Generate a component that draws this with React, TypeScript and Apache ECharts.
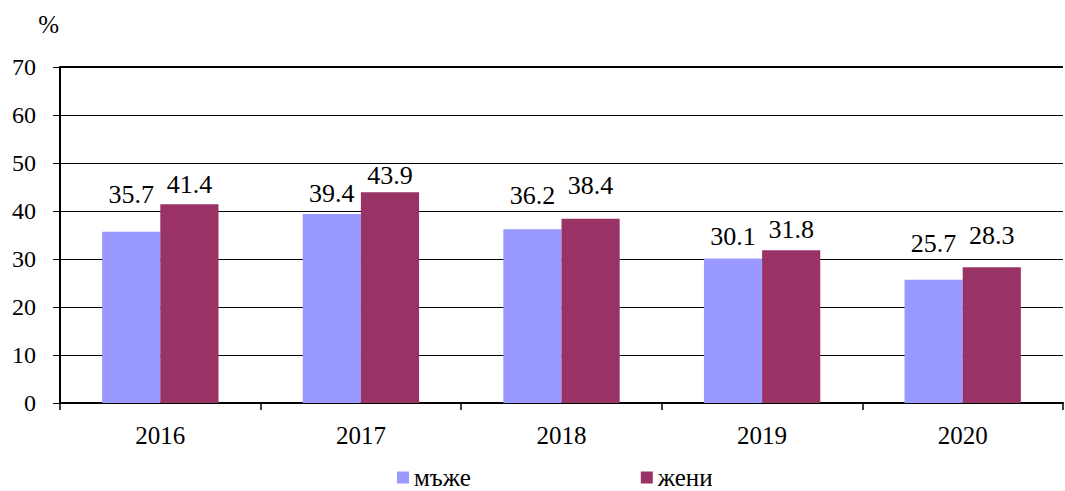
import React, { useEffect, useRef } from "react";
import * as echarts from "echarts";

const years = ["2016", "2017", "2018", "2019", "2020"];
const men = [35.7, 39.4, 36.2, 30.1, 25.7];
const women = [41.4, 43.9, 38.4, 31.8, 28.3];
const seriesNames = ["мъже", "жени"];
// extra label lift (px) per point, mimicking the manually placed labels
const menLabelLift = [17, 0, 14, 2, 16];
const womenLabelLift = [0, -3, 13, 1, 12];

const FONT = "Times New Roman";

export default function App() {
  const ref = useRef<HTMLDivElement>(null);
  useEffect(() => {
    if (!ref.current) return;
    const chart = echarts.init(ref.current, null, { renderer: "svg" });
    const baseLabel = { show: true, position: "top", fontFamily: FONT, fontSize: 26, color: "#000" };
    chart.setOption({
      animation: false,
      textStyle: { fontFamily: FONT, color: "#000" },
      grid: { left: 60, right: 2, top: 67, bottom: 88, containLabel: false },
      legend: {
        top: 465,
        left: 397,
        padding: 0,
        itemWidth: 12,
        itemHeight: 12,
        itemGap: 170,
        icon: "rect",
        textStyle: { fontFamily: FONT, fontSize: 25, lineHeight: 24, color: "#000" },
        data: seriesNames,
      },
      xAxis: {
        type: "category",
        data: years,
        axisLine: { lineStyle: { color: "#000", width: 2 } },
        axisTick: { show: true, inside: false, length: 7, alignWithLabel: false, lineStyle: { color: "#000", width: 1.5 } },
        axisLabel: { fontFamily: FONT, fontSize: 25, color: "#000", margin: 20 },
      },
      yAxis: {
        type: "value",
        min: 0,
        max: 70,
        interval: 10,
        name: "%",
        nameLocation: "end",
        nameGap: 30,
        nameTextStyle: { fontFamily: FONT, fontSize: 25, color: "#000", align: "right", padding: [0, 1, 0, 0] },
        axisLine: { show: true, lineStyle: { color: "#000", width: 2 } },
        axisTick: { show: true, length: 7, lineStyle: { color: "#000", width: 1 } },
        axisLabel: { fontFamily: FONT, fontSize: 24, color: "#000", margin: 24 },
        splitLine: { show: true, lineStyle: { color: "#000", width: 1 } },
      },
      series: [
        {
          name: seriesNames[0],
          type: "bar",
          data: men.map((v, i) => ({ value: v, label: { ...baseLabel, distance: 7 + menLabelLift[i] } })),
          barGap: "0%",
          barCategoryGap: "42%",
          itemStyle: { color: "#9999FF" },
          label: { ...baseLabel, distance: 7 },
          markLine: {
            silent: true,
            symbol: "none",
            label: { show: false },
            lineStyle: { color: "#000", width: 2, type: "solid" },
            data: [{ yAxis: 70 }],
          },
        },
        {
          name: seriesNames[1],
          type: "bar",
          data: women.map((v, i) => ({ value: v, label: { ...baseLabel, distance: 7 + womenLabelLift[i] } })),
          barGap: "0%",
          barCategoryGap: "42%",
          itemStyle: { color: "#993366" },
          label: { ...baseLabel, distance: 7 },
        },
      ],
    });
    return () => chart.dispose();
  }, []);
  return <div ref={ref} style={{ width: 1065, height: 491, position: "absolute", left: 0, top: 0 }} />;
}
